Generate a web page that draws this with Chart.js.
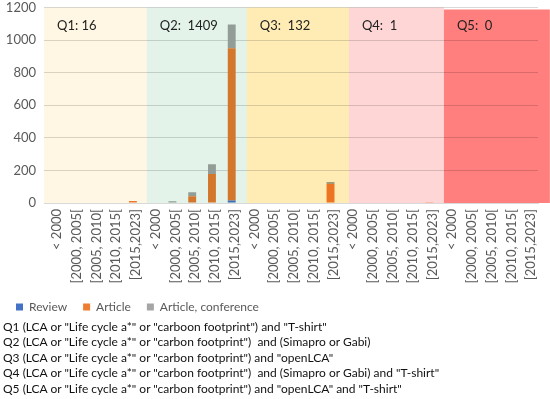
<!DOCTYPE html>
<html>
<head>
<meta charset="utf-8">
<script src="https://cdn.jsdelivr.net/npm/chart.js@4/dist/chart.umd.min.js"></script>
<style>
  html, body { margin: 0; padding: 0; background: #fff; }
  #wrap { position: relative; width: 550px; height: 399px; overflow: hidden; }
  #c { position: absolute; left: 0; top: -7px; }
  #foot { position: absolute; left: 3px; top: 319px; font-family: Lato, "Liberation Sans", sans-serif;
          font-size: 12px; line-height: 15.4px; color: #111; white-space: pre; }
</style>
</head>
<body>
<div id="wrap">
  <canvas id="c" width="550" height="332"></canvas>
  <div id="foot"></div>
</div>
<script>
// ---- data ----
const periods = ['< 2000', '[2000, 2005[', '[2005, 2010[', '[2010, 2015[', '[2015,2023]'];
const categories = [].concat(periods, periods, periods, periods, periods);
const review     = [0,0,0,0,0,   0,0,0,0,15,   0,0,0,0,0,   0,0,0,0,0,   0,0,0,0,0];
const article    = [0,0,0,0,12,  0,0,42,178,935, 0,0,0,3,116, 0,0,0,0,1,  0,0,0,0,0];
const conference = [0,0,0,3,1,   0,10,24,60,145, 0,0,0,0,13,  0,0,0,0,0,  0,0,0,0,0];
const bandLabels = ['Q1: 16', 'Q2:  1409', 'Q3:  132', 'Q4:  1', 'Q5:  0'];
const yTicks = [0, 200, 400, 600, 800, 1000, 1200];
const footLines = [
  'Q1 (LCA or "Life cycle a*" or "carboon footprint") and "T-shirt"',
  'Q2 (LCA or "Life cycle a*" or "carbon footprint")  and (Simapro or Gabi)',
  'Q3 (LCA or "Life cycle a*" or "carbon footprint") and "openLCA"',
  'Q4 (LCA or "Life cycle a*" or "carbon footprint")  and (Simapro or Gabi) and "T-shirt"',
  'Q5 (LCA or "Life cycle a*" or "carbon footprint") and "openLCA" and "T-shirt"'
];
document.getElementById('foot').textContent = footLines.join('\n');

// band styling (edges in category units)
const bandEdges = [-0.5, 4.7, 9.76, 14.93, 19.74, 25.1];
const bandColors = ['#FFF7E3', '#E3F3EA', '#FFECB5', '#FFD6D6', '#FF7E7E'];

const bandPlugin = {
  id: 'bands',
  afterDatasetsDraw(chart) {
    const ctx = chart.ctx, x = chart.scales.x, y = chart.scales.y;
    const step = x.getPixelForValue(1) - x.getPixelForValue(0);
    const x0 = x.getPixelForValue(0);
    const top = y.getPixelForValue(1200), bot = y.getPixelForValue(0);
    ctx.save();
    ctx.globalCompositeOperation = 'multiply';
    for (let i = 0; i < 5; i++) {
      const l = x0 + bandEdges[i] * step, r = x0 + bandEdges[i + 1] * step;
      ctx.fillStyle = bandColors[i];
      ctx.fillRect(l, top + (i === 4 ? 2 : 0), r - l, bot - top - (i === 4 ? 2 : 0));
    }
    ctx.restore();
    ctx.save();
    ctx.font = '13px Lato, "Liberation Sans", sans-serif';
    ctx.fillStyle = '#222';
    ctx.textBaseline = 'middle';
    for (let i = 0; i < 5; i++) {
      const l = x0 + bandEdges[i] * step;
      ctx.fillText(bandLabels[i], l + 13, top + 18);
    }
    ctx.restore();
  }
};

const font = { family: 'Lato, "Liberation Sans", sans-serif' };
new Chart(document.getElementById('c'), {
  type: 'bar',
  data: {
    labels: categories,
    datasets: [
      { label: 'Review', data: review, backgroundColor: '#4472C4' },
      { label: 'Article', data: article, backgroundColor: '#ED7D31' },
      { label: 'Article, conference', data: conference, backgroundColor: '#A5A5A5' }
    ]
  },
  options: {
    responsive: false,
    animation: false,
    devicePixelRatio: 1,
    layout: { padding: { top: 0, right: 12, bottom: 2, left: 0 } },
    datasets: { bar: { categoryPercentage: 1, barPercentage: 0.4 } },
    scales: {
      x: {
        stacked: true,
        grid: { display: false, drawTicks: false },
        border: { display: true, color: '#D9D9D9' },
        ticks: { autoSkip: false, maxRotation: 90, minRotation: 90, padding: 6, labelOffset: 3,
                 color: '#595959', font: Object.assign({ size: 13 }, font) },
        afterFit(s) { s.height = 82; }
      },
      y: {
        stacked: true,
        min: 0, max: 1200,
        afterBuildTicks(s) { s.ticks = yTicks.map(v => ({ value: v })); },
        grid: { color: '#D9D9D9', drawTicks: false },
        border: { display: false },
        ticks: { color: '#595959', padding: 8, callback: v => String(v),
                 font: Object.assign({ size: 13, lineHeight: 1 }, font) },
        afterFit(s) { s.width = 44; }
      }
    },
    plugins: {
      legend: {
        position: 'bottom', align: 'start',
        labels: { boxWidth: 7, boxHeight: 7, padding: 16, color: '#595959',
                  font: Object.assign({ size: 12 }, font) }
      },
      tooltip: { enabled: false }
    }
  },
  plugins: [bandPlugin]
});
</script>
</body>
</html>
